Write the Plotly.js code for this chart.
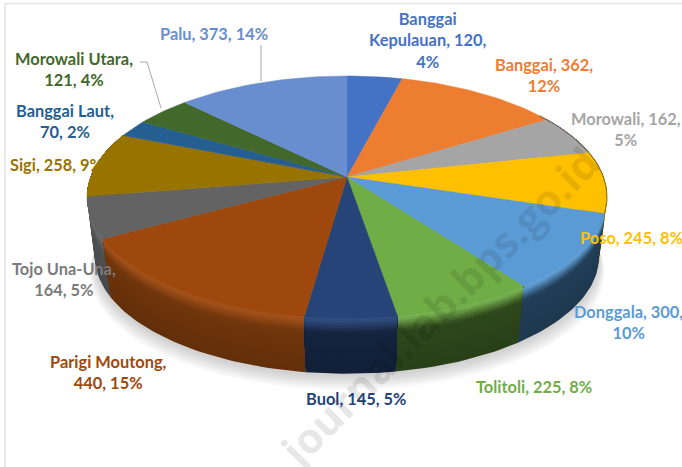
<!DOCTYPE html>
<html><head><meta charset="utf-8">
<script src="https://cdn.plot.ly/plotly-3.0.1.min.js"></script>
<style>html,body{margin:0;padding:0;background:#fff}#c{width:682px;height:467px}</style>
</head><body><div id="c"></div>
<script>
// ---- data ----
const categories=["Banggai Kepulauan","Banggai","Morowali","Poso","Donggala","Tolitoli","Buol","Parigi Moutong","Tojo Una-Una","Sigi","Banggai Laut","Morowali Utara","Palu"];
const values=[120,362,162,245,300,225,145,440,164,258,70,121,373];
const percents=["4%","12%","5%","8%","10%","8%","5%","15%","5%","9%","2%","4%","14%"];
// ---- styles ----
const topColors=["#4472c4","#ed7d31","#a5a5a5","#ffc000","#5b9bd5","#70ad47","#264478","#9e480e","#636363","#997300","#255e91","#43682b","#698ed0"];
const sideColors=["#223a66","#7a4019","#555555","#7a5c00","#223f58","#2e481c","#14243f","#70360c","#505153","#5c4500","#143450","#223516","#354868"];
const labelColors=["#4472c4","#ed7d31","#a5a5a5","#ffc000","#5b9bd5","#70ad47","#264478","#9e480e","#7b7b7b","#997300","#255e91","#43682b","#698ed0"];
const labelText=["Banggai<br>Kepulauan, 120,<br>4%","Banggai, 362,<br>12%","Morowali, 162,<br>5%","Poso, 245, 8%","Donggala, 300,<br>10%","Tolitoli, 225, 8%","Buol, 145, 5%","Parigi Moutong,<br>440, 15%","Tojo Una-Una,<br>164, 5%","Sigi, 258, 9%","Banggai Laut,<br>70, 2%","Morowali Utara,<br>121, 4%","Palu, 373, 14%"];
const labelX=[427,544,626,631,628,534,356,108,64,56,65,74,214];
const labelY=[40,75,129,237,322,386,398,372,279,164,121,69,33];
// ---- pie geometry (perspective projection of a disc) ----
const CX=347,TOPY=177,BOTY=237,A=256.4,B=117.7,K=0.165,BASE=0.97,STEP=1.5,DEPTH_BANDS=22;
function project(th,t){ // th: clockwise from 12 o'clock; t: 0 top rim, 1 bottom rim
  const u=Math.sin(th),v=-Math.cos(th),w=1-K*v,s=1+(BASE-1)*t,y0=TOPY+(BOTY-TOPY)*t;
  return [CX+s*A*u/w,y0+s*B*v/w];
}
function arc(a0,a1,t){
  const n=Math.max(2,Math.ceil((a1-a0)*180/Math.PI/STEP)),p=[];
  for(let i=0;i<=n;i++)p.push(project(a0+(a1-a0)*i/n,t));
  return p;
}
function poly(pts,color,stroke){
  return {type:"scatter",mode:"lines",x:pts.map(p=>p[0]),y:pts.map(p=>p[1]),fill:"toself",fillcolor:color,
          line:{width:stroke,color:color},hoverinfo:"skip",showlegend:false};
}
function hex(c){return [1,3,5].map(i=>parseInt(c.substr(i,2),16));}
function mixRGB(a,b,f){return a.map((x,i)=>x+(b[i]-x)*f);}
function css(c){return "rgb("+c.map(Math.round).join(",")+")";}

const total=values.reduce((a,b)=>a+b,0);
let ang=0;const slices=values.map((val,i)=>{const a0=ang;ang+=val/total*2*Math.PI;return {i,a0,a1:ang};});
const traces=[];
// soft ground shadow
for(let k=7;k>=0;k--){
  const pts=arc(0,2*Math.PI,1).map(p=>[CX+(p[0]-CX)*(1+0.003*k),p[1]+3+k*1.9]);
  traces.push(poly(pts,"rgba(90,90,90,0.035)",0));
}
// side wall, back to front; each slice painted from its lowest band upward so no seams appear
const order=slices.slice().sort((p,q)=>(-Math.cos((p.a0+p.a1)/2))-(-Math.cos((q.a0+q.a1)/2)));
order.forEach(s=>{
  if(-Math.cos(s.a0)<-0.35 && -Math.cos(s.a1)<-0.35) return; // hidden behind the top
  const rim=mixRGB(hex(topColors[s.i]),[255,255,255],0.05),side=hex(sideColors[s.i]);
  for(let b=DEPTH_BANDS-1;b>=0;b--){
    const t1=(b+1)/DEPTH_BANDS,tm=(b+0.5)/DEPTH_BANDS;
    let col;
    if(tm<0.05) col=rim;
    else if(tm<0.27) col=mixRGB(rim,side,(tm-0.05)/0.22);
    else col=mixRGB(side,[0,0,0],(tm-0.27)*0.16);
    const up=arc(s.a0,s.a1,0),lo=arc(s.a0,s.a1,t1).reverse();
    traces.push(poly(up.concat(lo),css(col),0));
  }
});
// top surface
slices.forEach(s=>{
  const pts=[[CX,TOPY]].concat(arc(s.a0,s.a1,0));pts.push([CX,TOPY]);
  traces.push(poly(pts,topColors[s.i],0.5));
});
// dark edge along the back-right rim (Morowali and Poso)
const edge=arc(slices[1].a1-0.05,slices[3].a1,0);
traces.push({type:"scatter",mode:"lines",x:edge.map(p=>p[0]),y:edge.map(p=>p[1]),line:{color:"rgba(70,60,40,0.55)",width:1.2},hoverinfo:"skip",showlegend:false});
// leader lines
const leaderX=[[261,261],[140,147,161]],leaderY=[[45,81],[62,62,108]];
leaderX.forEach((lx,i)=>traces.push({type:"scatter",mode:"lines",x:lx,y:leaderY[i],line:{color:"#a9a9a9",width:1},hoverinfo:"skip",showlegend:false}));

const annotations=categories.map((c,i)=>({xref:"x",yref:"y",x:labelX[i],y:labelY[i],text:labelText[i],showarrow:false,
  xanchor:"center",yanchor:"middle",align:"center",font:{family:"Lato, 'Open Sans', sans-serif",size:16.4,weight:700,color:labelColors[i]}}));
annotations.push({xref:"x",yref:"y",x:438,y:306,text:"journal.lab.bps.go.id",showarrow:false,textangle:-45,xanchor:"center",yanchor:"middle",
  font:{family:"'Open Sans', sans-serif",size:42,weight:700,color:"rgba(0,0,0,0.115)"}});

Plotly.newPlot("c",traces,{
  width:682,height:467,margin:{l:0,r:0,t:0,b:0},paper_bgcolor:"#fff",plot_bgcolor:"#fff",showlegend:false,
  xaxis:{range:[0,682],visible:false,fixedrange:true},
  yaxis:{range:[467,0],visible:false,fixedrange:true},
  annotations,
  shapes:[
    {type:"line",xref:"x",yref:"y",x0:5,x1:682,y0:3.5,y1:3.5,line:{color:"#e2e2e2",width:1.5}},
    {type:"line",xref:"x",yref:"y",x0:5,x1:5,y0:3.5,y1:467,line:{color:"#e2e2e2",width:1.5}}
  ]
},{staticPlot:true,displayModeBar:false});
</script></body></html>
